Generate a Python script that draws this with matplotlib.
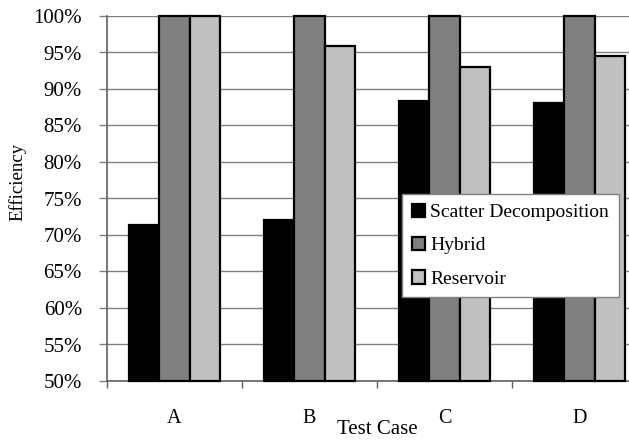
import numpy as np
import matplotlib
matplotlib.use("Agg")
import matplotlib.pyplot as plt
from matplotlib.ticker import FixedLocator, PercentFormatter

# Efficiency per test case for each load-balancing scheme
test_cases = ["A", "B", "C", "D"]
scatter_decomposition = [71.4, 72.0, 88.4, 88.1]
hybrid = [100.0, 100.0, 100.0, 100.0]
reservoir = [100.0, 95.9, 93.0, 94.5]

series_names = ["Scatter Decomposition", "Hybrid", "Reservoir"]
series_colors = ["#000000", "#808080", "#c0c0c0"]

Y_MIN, Y_MAX = 50, 100

plt.rcParams["font.family"] = ["Liberation Serif", "DejaVu Serif"]

fig = plt.figure(figsize=(6.29, 4.40), dpi=100)
# Plot area runs past the right border of the canvas
ax = fig.add_axes([107 / 629, 59 / 440, 540 / 629, 365 / 440])

x = np.arange(len(test_cases))
bar_w = 0.224
offsets = [-bar_w, 0.0, bar_w]
for vals, name, col, off in zip([scatter_decomposition, hybrid, reservoir],
                                series_names, series_colors, offsets):
    heights = np.asarray(vals) - Y_MIN
    ax.bar(x + off, heights, bottom=Y_MIN, width=bar_w, color=col,
           edgecolor="black", linewidth=1.6, label=name, zorder=3,
           clip_on=False)

ax.set_xlim(-0.5, len(test_cases) - 0.5)
ax.set_ylim(Y_MIN, Y_MAX)
ax.yaxis.set_major_locator(FixedLocator(np.arange(Y_MIN, Y_MAX + 1, 5)))
ax.yaxis.set_major_formatter(PercentFormatter(decimals=0))
ax.grid(axis="y", color="#808080", linewidth=1.0, zorder=0)

# Category separators as major ticks, labels centred on minor ticks
ax.set_xticks(np.arange(-0.5, len(test_cases) - 0.4, 1.0))
ax.set_xticklabels([])
ax.set_xticks(x, minor=True)
ax.set_xticklabels(test_cases, minor=True, fontsize=14.5)
ax.tick_params(axis="x", which="major", direction="out", length=5,
               color="#606060", width=1.0)
ax.tick_params(axis="x", which="minor", length=0, pad=20)
ax.tick_params(axis="y", direction="out", length=6, color="#808080",
               width=1.0, labelsize=15, pad=12)

for side in ["top", "right"]:
    ax.spines[side].set_visible(False)
for side in ["left", "bottom"]:
    ax.spines[side].set_color("#606060")
    ax.spines[side].set_linewidth(1.2)

ax.set_ylabel("Efficiency", fontsize=13.5)
ax.yaxis.set_label_coords(-0.150, 0.545)
fig.text(377 / 629, 1.5 / 440, "Test Case", fontsize=15, ha="center",
         va="bottom")

leg = ax.legend(loc="upper left", bbox_to_anchor=(402 / 629, 1 - 194 / 440),
                bbox_transform=fig.transFigure, fontsize=14, frameon=True,
                fancybox=False, edgecolor="#808080", framealpha=1.0,
                handlelength=0.7, handleheight=0.7, handletextpad=0.25,
                labelspacing=0.8, borderpad=0.5, borderaxespad=0.0)
leg.get_frame().set_linewidth(1.0)

fig.savefig("out.png", dpi=100)
